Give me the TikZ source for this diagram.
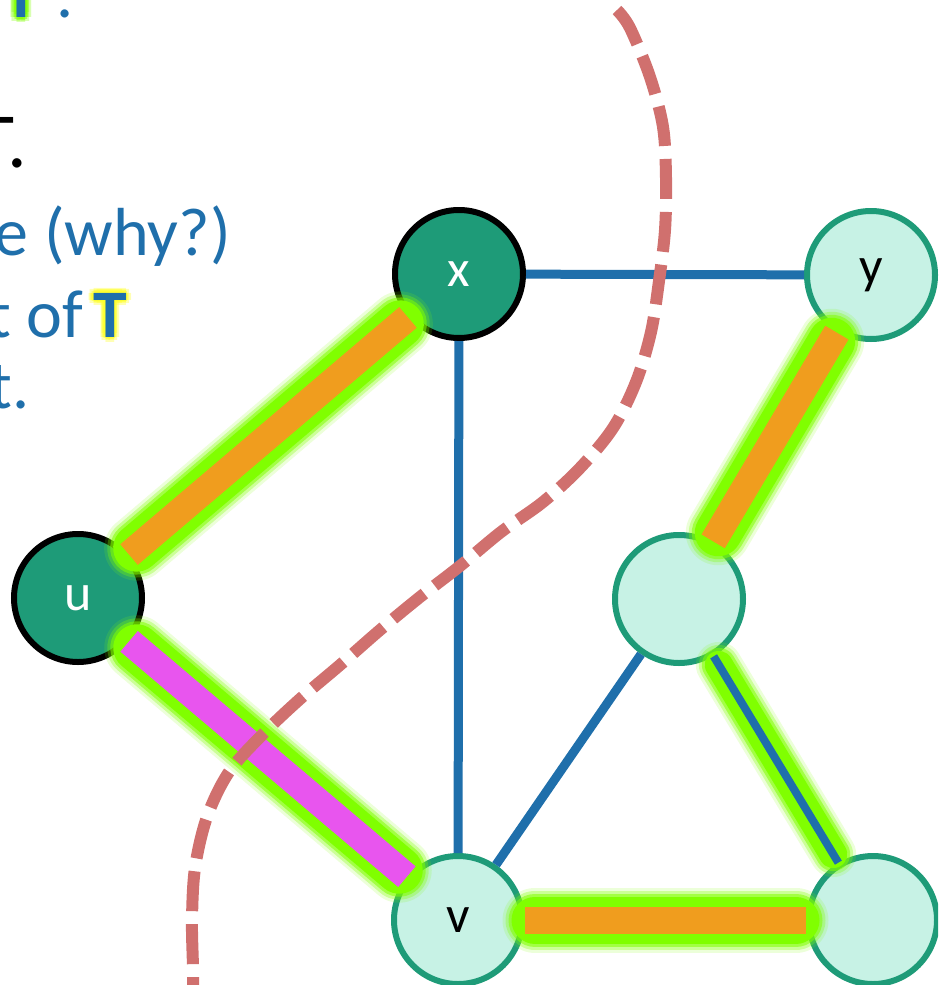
\documentclass[tikz,border=0pt]{standalone}
\usepackage{fontspec}
\setmainfont{Carlito}
\definecolor{darkteal}{RGB}{30,155,120}
\definecolor{lightteal}{RGB}{199,242,229}
\definecolor{edgeblue}{RGB}{31,111,171}
\definecolor{edgeorange}{RGB}{240,157,30}
\definecolor{edgemagenta}{RGB}{232,85,238}
\definecolor{glowgreen}{RGB}{128,255,0}
\definecolor{glowyellow}{RGB}{255,255,40}
\definecolor{cutred}{RGB}{208,112,110}
\newcommand\glowedge[4]{%
  \pgfmathsetmacro\gwA{#4+38}\pgfmathsetmacro\gwB{#4+32}%
  \pgfmathsetmacro\gwC{#4+26}\pgfmathsetmacro\gwD{#4+20}%
  \draw[glowgreen, opacity=0.15, line width=\gwA pt, line cap=round, shorten <=10pt, shorten >=10pt] (#1) -- (#2);
  \draw[glowgreen, opacity=0.3, line width=\gwB pt, line cap=round, shorten <=10pt, shorten >=10pt] (#1) -- (#2);
  \draw[glowgreen, opacity=0.55, line width=\gwC pt, line cap=round, shorten <=10pt, shorten >=10pt] (#1) -- (#2);
  \draw[glowgreen, line width=\gwD pt, line cap=round, shorten <=10pt, shorten >=10pt] (#1) -- (#2);
  \draw[#3, line width=#4pt] (#1) -- (#2);
}
\tikzset{
  darknode/.style={circle, draw=black, line width=6pt, fill=darkteal, minimum size=128pt, inner sep=0pt, text=white, font=\fontsize{52}{52}\selectfont},
  lightnode/.style={circle, draw=darkteal, line width=6pt, fill=lightteal, minimum size=128pt, inner sep=0pt, text=black, font=\fontsize{52}{52}\selectfont},
  blueedge/.style={draw=edgeblue, line width=9pt},
  cutline/.style={draw=cutred, line width=12pt, dash pattern=on 40pt off 13pt},
  slidetext/.style={inner sep=0pt, anchor=base east, text=edgeblue, font=\fontsize{68}{68}\selectfont},
  halo/.style={inner sep=0pt, anchor=base west, font=\fontsize{68}{68}\selectfont\bfseries},
}
\begin{document}
\begin{tikzpicture}[x=1pt,y=-1pt]
\useasboundingbox (0,0) rectangle (938,985);
\clip (0,0) rectangle (938,985);

% slide text (cut off at the left)
\foreach \a in {0,45,...,315}{
  \node[halo, text=glowgreen, opacity=0.3] at ([shift={(\a:6)}]4,17) {T};
  \node[halo, text=glowgreen, opacity=0.5] at ([shift={(\a:3)}]4,17) {T};
}
\node[halo, text=edgeblue] (t1) at (4,17) {T};
\node[slidetext] (t1dot) at (74,17) {.};
\node[slidetext, text=black, font=\fontsize{78}{78}\selectfont] (t2) at (27,167) {T.};
\node[slidetext] (t3) at (231,255) {e (why?)};
\node[slidetext] (t4) at (83,337) {t of};
\foreach \a in {0,45,...,315}{
  \node[halo, text=glowyellow, opacity=0.35] at ([shift={(\a:5)}]93,337) {T};
  \node[halo, text=glowyellow, opacity=0.5] at ([shift={(\a:2.5)}]93,337) {T};
}
\node[halo, text=edgeblue] (t4T) at (93,337) {T};
\node[slidetext] (t5) at (30,408) {t.};

% nodes
\node[darknode] (x) at (459,274) {x};
\node[lightnode] (y) at (871,275) {y};
\node[darknode] (u) at (78,598) {u};
\node[lightnode] (m) at (679,599) {};
\node[lightnode] (v) at (458,920) {v};
\node[lightnode] (w) at (873,920) {};

% plain edges
\draw[blueedge] (x) -- (y);
\draw[blueedge] (x) -- (v);
\draw[blueedge] (m) -- (v);

% glowing edges
\glowedge{m}{w}{edgeblue}{8}
\glowedge{u}{x}{edgeorange}{27}
\glowedge{y}{m}{edgeorange}{27}
\glowedge{v}{w}{edgeorange}{27}
\glowedge{u}{v}{edgemagenta}{27}

% cut
\draw[cutline] plot[smooth, tension=0.55] coordinates {
  (617,10) (630,28) (650,77) (663,127) (666,178) (665,230) (659,281)
  (651,332) (636,382) (613,428) (580,468) (543,502) (501,532) (460,566)
  (420,597) (380,630) (340,665) (300,699) (263,734) (229,772) (207,817)
  (195,868) (192,920) (193,968) (193,995)};
\end{tikzpicture}
\end{document}
